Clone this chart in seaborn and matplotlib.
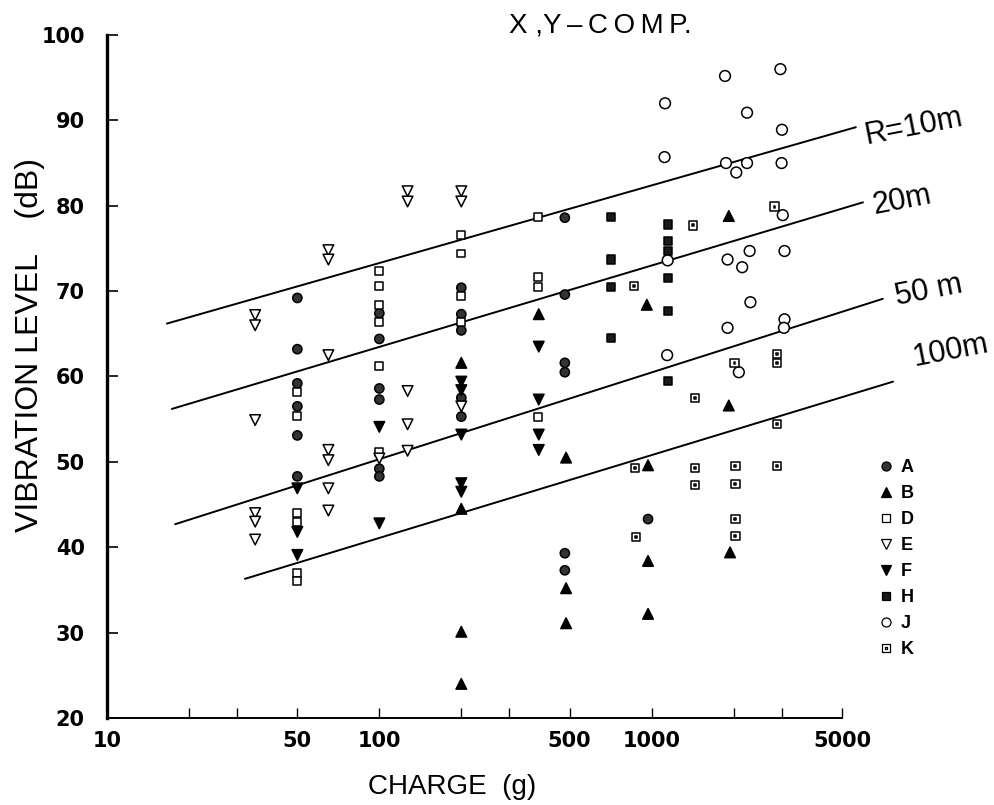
import matplotlib
matplotlib.use("Agg")
import matplotlib.pyplot as plt
from matplotlib.path import Path
from matplotlib.lines import Line2D
import pandas as pd
import seaborn as sns

# ---------------- data ----------------
a_charge = [50, 50, 50, 50, 50, 50, 100, 100, 100, 100, 100, 100, 200, 200, 200, 200, 200,
            480, 480, 480, 480, 480, 480, 970]
a_level = [69.2, 63.2, 59.2, 56.5, 53.1, 48.3, 67.4, 64.4, 58.6, 57.3, 49.2, 48.3, 70.4, 67.3, 65.4, 57.5, 55.3,
           78.6, 69.6, 61.6, 60.5, 39.3, 37.3, 43.3]
b_charge = [200, 200, 200, 200, 385, 485, 485, 485, 960, 970, 970, 970, 1920, 1920, 1940]
b_level = [61.6, 44.5, 30.1, 24.0, 67.3, 50.5, 35.2, 31.1, 68.4, 49.6, 38.4, 32.2, 78.8, 56.6, 39.4]
d_charge = [50, 50, 50, 50, 50, 50, 100, 100, 100, 100, 100, 100, 200, 200, 200, 200, 383, 383, 383, 383]
d_level = [58.2, 55.4, 44.0, 43.0, 37.0, 36.0, 72.4, 70.6, 68.4, 66.4, 61.2, 51.2, 76.6, 74.4, 69.4, 66.4,
           78.7, 71.7, 70.5, 55.3]
e_charge = [35, 35, 35, 35, 35, 35, 65, 65, 65, 65, 65, 65, 65, 100, 127, 127, 127, 127, 127, 200, 200, 200]
e_level = [67.2, 66.0, 54.9, 44.0, 43.0, 40.9, 74.8, 73.7, 62.5, 51.4, 50.2, 46.9, 44.3, 50.4,
           81.7, 80.5, 58.3, 54.4, 51.3, 81.7, 80.5, 56.5]
f_charge = [50, 50, 50, 100, 100, 200, 200, 200, 200, 200, 385, 385, 385, 385]
f_level = [46.9, 41.8, 39.1, 54.1, 42.8, 59.4, 58.4, 53.2, 47.5, 46.5, 63.5, 57.3, 53.2, 51.4]
h_charge = [710, 710, 710, 710, 1150, 1150, 1150, 1150, 1150, 1150]
h_level = [78.7, 73.7, 70.5, 64.5, 77.8, 75.9, 74.7, 71.5, 67.7, 59.5]
j_charge = [1120, 1115, 1145, 1140, 1860, 1875, 1900, 1900, 2045, 2090, 2150, 2240, 2240, 2290, 2305,
            2970, 3010, 3000, 3030, 3075, 3075, 3060]
j_level = [92.0, 85.7, 73.6, 62.5, 95.2, 85.0, 73.7, 65.7, 83.9, 60.5, 72.8, 90.9, 85.0, 74.7, 68.7,
           96.0, 88.9, 85.0, 78.9, 74.7, 66.7, 65.7]
k_charge = [860, 870, 875, 1415, 1445, 1445, 1445, 2015, 2030, 2030, 2030, 2030, 2825, 2890, 2890, 2890, 2890]
k_level = [70.6, 49.3, 41.2, 77.7, 57.5, 49.3, 47.3, 61.6, 49.5, 47.4, 43.3, 41.3, 79.9, 62.6, 61.6, 54.4, 49.5]

groups = ["A", "B", "D", "E", "F", "H", "J", "K"]

line_labels = ["R=10m", "20m", "50 m", "100m"]
line_charge_start = [16.6, 17.3, 17.8, 32.1]
line_charge_end = [5620, 5970, 7060, 7700]
line_level_start = [66.2, 56.2, 42.7, 36.3]
line_level_end = [89.2, 80.4, 69.1, 59.4]

x_major = [10, 50, 100, 500, 1000, 5000]
x_minor = [20, 30, 200, 300, 2000, 3000]
y_ticks = [20, 30, 40, 50, 60, 70, 80, 90, 100]

# ---------------- build frame ----------------
charges = [a_charge, b_charge, d_charge, e_charge, f_charge, h_charge, j_charge, k_charge]
levels = [a_level, b_level, d_level, e_level, f_level, h_level, j_level, k_level]
rows = []
for g, cs, ls in zip(groups, charges, levels):
    for c, l in zip(cs, ls):
        rows.append({"charge": c, "level": l, "group": g})
df = pd.DataFrame(rows)

# ---------------- style ----------------
sns.set_theme(style="ticks")
plt.rcParams["font.family"] = ["Liberation Sans", "DejaVu Sans"]
for key in ["text.color", "axes.labelcolor", "xtick.color", "ytick.color", "axes.edgecolor"]:
    plt.rcParams[key] = "black"

k_path = Path(
    [(-1, -1), (1, -1), (1, 1), (-1, 1), (-1, -1),
     (-0.22, -0.22), (0.22, -0.22), (0.22, 0.22), (-0.22, 0.22), (-0.22, -0.22)],
    [Path.MOVETO, Path.LINETO, Path.LINETO, Path.LINETO, Path.CLOSEPOLY,
     Path.MOVETO, Path.LINETO, Path.LINETO, Path.LINETO, Path.CLOSEPOLY])

markers = {"A": "o", "B": "^", "D": "s", "E": "v", "F": "v", "H": "s", "J": "o", "K": k_path}
faces = {"A": "#333333", "B": "black", "D": "white", "E": "white", "F": "black",
         "H": "#1a1a1a", "J": "white", "K": "white"}
sizes = {"A": 44, "B": 58, "D": 32, "E": 58, "F": 58, "H": 36, "J": 60, "K": 36}

fig = plt.figure(figsize=(9.95, 8.05), dpi=100)
ax = fig.add_axes([107 / 995, 1 - 718 / 805, 735 / 995, 683 / 805])

# regression lines with their labels (label offsets in pixels from line end)
label_offsets = [(6, 1), (7, 2), (10, 8), (17, 31)]
for lab, c0, c1, l0, l1, off in zip(line_labels, line_charge_start, line_charge_end,
                                    line_level_start, line_level_end, label_offsets):
    ax.plot([c0, c1], [l0, l1], color="black", lw=1.4, clip_on=False, zorder=2)
    ax.annotate(lab, xy=(c1, l1), xytext=off, textcoords="offset pixels",
                ha="left", va="center", rotation=11, fontsize=22, annotation_clip=False)

sns.scatterplot(data=df, x="charge", y="level", hue="group", style="group", size="group",
                hue_order=groups, style_order=groups, size_order=groups,
                palette=faces, markers=markers, sizes=sizes,
                edgecolor="black", linewidth=1.1, legend=False, ax=ax, zorder=3, clip_on=False)

ax.set_xscale("log")
ax.set_xlim(10, 5000)
ax.set_ylim(20, 100)
ax.set_xticks(x_major)
ax.set_xticklabels([str(v) for v in x_major])
ax.set_xticks(x_minor, minor=True)
ax.set_xticklabels([], minor=True)
ax.set_yticks(y_ticks)
ax.set_yticklabels([str(v) for v in y_ticks])
for s in ["top", "right"]:
    ax.spines[s].set_visible(False)
ax.spines["left"].set_linewidth(2.4)
ax.spines["bottom"].set_linewidth(1.4)
ax.tick_params(axis="x", which="both", direction="in", length=7, width=1.0, pad=9, labelsize=15)
ax.tick_params(axis="y", direction="in", length=8, width=1.2, pad=16, labelsize=15)
for t in ax.get_xticklabels() + ax.get_yticklabels():
    t.set_fontweight("bold")
    t.set_family(["DejaVu Sans"])
ax.set_xlabel("")
ax.set_ylabel("")

fig.text(600 / 995, 1 - 25 / 805, "X ,Y\u2009\u2013\u2009C\u2009O\u2009M\u2009P.", ha="center", va="center",
         fontsize=20)
fig.text(452 / 995, 1 - 787 / 805, "CHARGE  (g)", ha="center", va="center", fontsize=20)
fig.text(30 / 995, 1 - 345 / 805, "VIBRATION LEVEL    (dB)", ha="center", va="center",
         rotation=90, fontsize=23)

# legend
handles = []
for g in groups:
    handles.append(Line2D([], [], linestyle="none", marker=markers[g], markerfacecolor=faces[g],
                          markeredgecolor="black", markeredgewidth=0.9,
                          markersize=6.5 if g not in ("D", "H", "K") else 5.5))
ax.legend(handles, groups, loc="upper left", bbox_to_anchor=(868 / 995, 1 - 450 / 805),
          bbox_transform=fig.transFigure, frameon=False, handletextpad=0.3, handlelength=1.0,
          labelspacing=0.5, borderpad=0, prop={"size": 13, "weight": "bold"})

fig.savefig("out.png", dpi=100)
